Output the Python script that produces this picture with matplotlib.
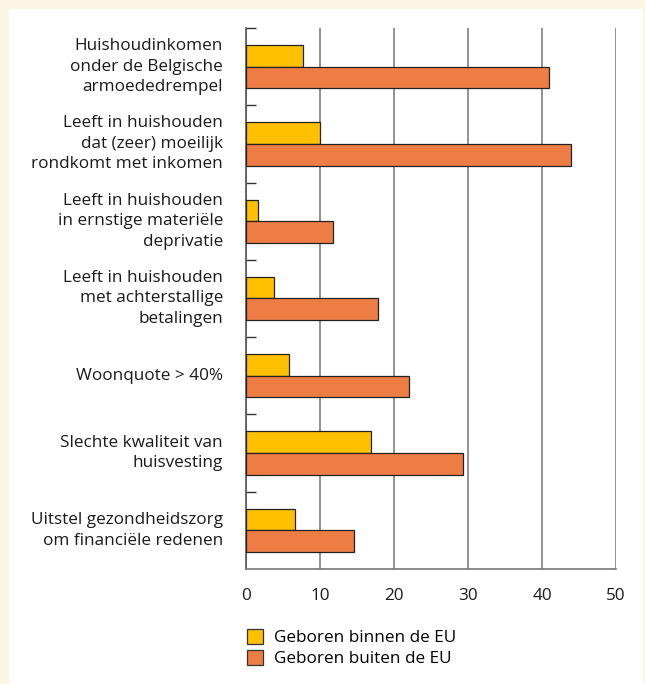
import numpy as np
import matplotlib.pyplot as plt
import matplotlib.patches as mpatches

categories = [
    "Huishoudinkomen\nonder de Belgische\narmoededrempel",
    "Leeft in huishouden\ndat (zeer) moeilijk\nrondkomt met inkomen",
    "Leeft in huishouden\nin ernstige materiële\ndeprivatie",
    "Leeft in huishouden\nmet achterstallige\nbetalingen",
    "Woonquote > 40%",
    "Slechte kwaliteit van\nhuisvesting",
    "Uitstel gezondheidszorg\nom financiële redenen",
]
binnen_eu = [7.7, 10.0, 1.6, 3.8, 5.8, 16.9, 6.6]
buiten_eu = [40.9, 43.9, 11.8, 17.8, 22.0, 29.3, 14.6]
x_ticks = [0, 10, 20, 30, 40, 50]

plt.rcParams['font.family'] = ['Open Sans', 'DejaVu Sans']

yellow = '#FFC000'
orange = '#ED7D45'
cream = '#FDF5E4'

fig = plt.figure(figsize=(6.45, 6.84), dpi=100)
fig.patch.set_facecolor(cream)
# white panel with cream border left/top
fig.patches.append(mpatches.Rectangle((9/645, 0), 1 - 11/645, 1 - 9/684,
                                      transform=fig.transFigure, facecolor='white',
                                      edgecolor='none', zorder=-10))

ax = fig.add_axes([246/645, 1 - 569/684, 370/645, 541/684])
ax.set_facecolor('white')

y = np.arange(len(categories))
h = 0.28
ax.barh(y - h/2, binnen_eu, height=h, color=yellow, edgecolor='#222222', lw=0.9,
        label='Geboren binnen de EU', zorder=3)
ax.barh(y + h/2, buiten_eu, height=h, color=orange, edgecolor='#222222', lw=0.9,
        label='Geboren buiten de EU', zorder=3)

ax.set_xlim(0, 50)
ax.set_ylim(len(categories) - 0.5, -0.5)
ax.set_xticks(x_ticks)
ax.set_xticklabels([str(t) for t in x_ticks], fontsize=12.3, color='#1a1a1a')
ax.tick_params(axis='x', length=0, pad=14)
ax.grid(axis='x', color='#7f7f7f', lw=1.2, zorder=0)

# category boundary ticks on the left spine
ax.set_yticks(np.arange(len(categories)) - 0.5)
ax.set_yticklabels([])
ax.tick_params(axis='y', direction='in', length=7, width=1, color='#333333')
for i, lab in enumerate(categories):
    ax.text(-3.1, i, lab, ha='right', va='center', fontsize=12.3,
            linespacing=1.38, color='#1a1a1a')

for s in ['top', 'right']:
    ax.spines[s].set_visible(False)
ax.spines['left'].set_color('#555555')
ax.spines['bottom'].set_color('#777777')
ax.spines['left'].set_linewidth(1.2)
ax.spines['bottom'].set_linewidth(1.2)

handles = [mpatches.Patch(facecolor=yellow, edgecolor='#333333', lw=0.9),
           mpatches.Patch(facecolor=orange, edgecolor='#333333', lw=0.9)]
fig.legend(handles, ['Geboren binnen de EU', 'Geboren buiten de EU'],
           loc='upper left', bbox_to_anchor=(240/645, 1 - 622/684), frameon=False,
           fontsize=12.3, handlelength=0.95, handleheight=0.95, handletextpad=0.65,
           labelspacing=0.22, borderaxespad=0)

fig.savefig('out.png', dpi=100, facecolor=fig.get_facecolor())
